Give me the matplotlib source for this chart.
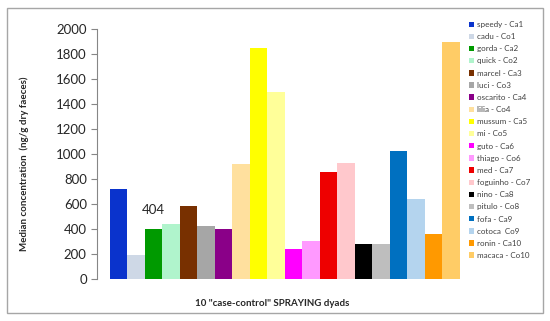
import matplotlib
matplotlib.use("Agg")
import matplotlib.pyplot as plt
from matplotlib.patches import Rectangle, Patch

plt.rcParams["font.family"] = ["Lato", "DejaVu Sans"]

# ── Data ──────────────────────────────────────────────────────────────────────
animals = ["speedy - Ca1", "cadu - Co1", "gorda - Ca2", "quick - Co2",
           "marcel - Ca3", "luci - Co3", "oscarito - Ca4", "lilia - Co4",
           "mussum - Ca5", "mi - Co5", "guto - Ca6", "thiago - Co6",
           "med - Ca7", "foguinho - Co7", "nino - Ca8", "pitulo - Co8",
           "fofa - Ca9", "cotoca  Co9", "ronin - Ca10", "macaca - Co10"]
medians = [722, 193, 404, 440, 585, 424, 402, 917, 1845, 1496,
           240, 302, 856, 930, 283, 283, 1024, 642, 358, 1893]
colors = ["#0A33CC", "#CED8E6", "#009A00", "#B0F4CC", "#783000", "#A6A6A6",
          "#8A0088", "#FFE09E", "#FFFF00", "#FFFF99", "#FF00FF", "#FF99FF",
          "#EE0000", "#FFC8CC", "#000000", "#BEBEBE", "#0070C0", "#B4D4EE",
          "#FF9900", "#FFCC66"]
y_ticks = [0, 200, 400, 600, 800, 1000, 1200, 1400, 1600, 1800, 2000]

# ── Figure ────────────────────────────────────────────────────────────────────
W, H = 550, 321
fig = plt.figure(figsize=(W / 100, H / 100), dpi=100)
fig.patch.set_facecolor("white")

# outer chart border
fig.add_artist(Rectangle((7 / W, 1 - 313 / H), 536 / W, 305 / H,
                         transform=fig.transFigure, fill=False,
                         edgecolor="#A6A6A6", linewidth=1.0))

ax = fig.add_axes([96.5 / W, 42 / H, 376.5 / W, 250 / H])
x = list(range(len(medians)))
ax.bar(x, medians, width=1.0, color=colors, edgecolor="none")

ax.annotate("404", (2, medians[2]), xytext=(0, 9), textcoords="offset points",
            ha="center", va="bottom", fontsize=9.5, color="#262626")

ax.set_xlim(-1.27, 20.27)
ax.set_ylim(0, 2000)
ax.set_yticks(y_ticks)
ax.set_xticks([])
ax.tick_params(axis="y", labelsize=9.5, length=4, width=0.8,
               color="#868686", labelcolor="#262626", pad=3)
for s in ["top", "right", "bottom"]:
    ax.spines[s].set_visible(False)
ax.spines["left"].set_color("#868686")
ax.spines["left"].set_linewidth(0.8)

fig.text(24 / W, 1 - 164 / H, "Median concentration  (ng/g dry faeces)",
         rotation=90, ha="center", va="center", fontsize=7,
         fontweight="bold", color="#262626")
fig.text(272 / W, 1 - 303 / H, '10 "case-control" SPRAYING dyads',
         ha="center", va="center", fontsize=7, fontweight="bold",
         color="#262626")

handles = [Patch(facecolor=c, edgecolor="none") for c in colors]
fig.legend(handles, animals, loc="upper left",
           bbox_to_anchor=(465 / W, 1 - 17 / H), frameon=False,
           fontsize=5.8, handlelength=0.65, handleheight=0.65,
           handletextpad=0.3, labelspacing=0.64, borderpad=0,
           labelcolor="#404040")

fig.savefig("out.png", dpi=100, facecolor="white")
